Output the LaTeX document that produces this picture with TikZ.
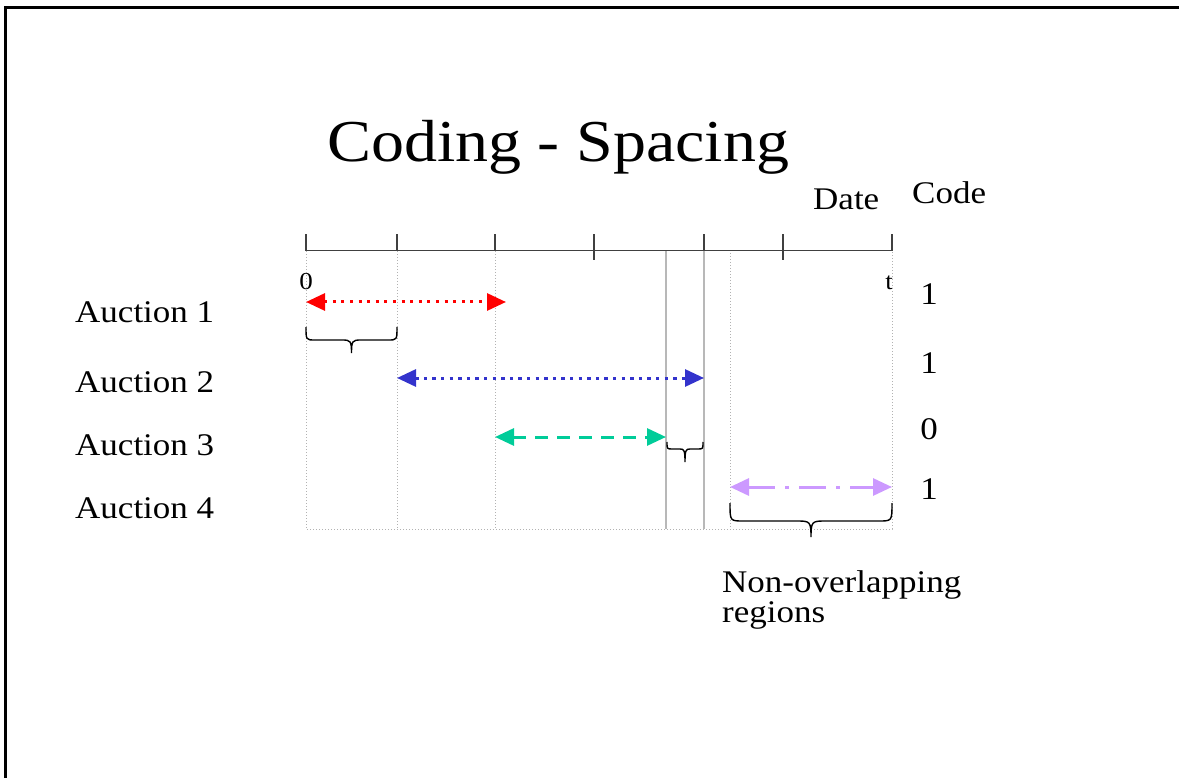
\documentclass[tikz,border=0pt]{standalone}
\usepackage{fontspec}
\setmainfont{Liberation Serif}
\usetikzlibrary{arrows.meta}

% slightly condensed vertical text
\newcommand{\sq}[1]{\scalebox{1}[0.9]{#1}}

% flat curly brace opening upwards:
% left x, right x, end y, flat y, tip y, curl width
\newcommand{\flatbrace}[6]{%
  \draw[curly] (#1,#3) .. controls (#1,#4) and (#1,#4) .. (#1+#6,#4)
    -- ({(#1+#2)/2-#6},#4) .. controls ({(#1+#2)/2-1},#4) and ({(#1+#2)/2},#4+1) .. ({(#1+#2)/2},#5)
    .. controls ({(#1+#2)/2},#4+1) and ({(#1+#2)/2+1},#4) .. ({(#1+#2)/2+#6},#4)
    -- (#2-#6,#4) .. controls (#2,#4) and (#2,#4) .. (#2,#3);}

\definecolor{redarr}{RGB}{255,0,0}
\definecolor{bluearr}{RGB}{51,51,204}
\definecolor{greenarr}{RGB}{0,204,153}
\definecolor{purplearr}{RGB}{204,153,255}

\tikzset{
  txt/.style={inner sep=0pt, anchor=base west, font=\fontsize{35}{40}\selectfont},
  small/.style={inner sep=0pt, anchor=base, font=\fontsize{27}{30}\selectfont},
  axisline/.style={black!75, line width=1pt},
  tick/.style={black!75, line width=1.2pt},
  guide/.style={black!30, line width=1pt, dotted},
  guidesolid/.style={black!28, line width=1.2pt},
  span/.style={line width=3pt, {Triangle[length=19pt,width=17pt]}-{Triangle[length=19pt,width=17pt]}},
  curly/.style={black, line width=1.4pt},
}

\begin{document}
\begin{tikzpicture}[x=1pt, y=-1pt]
\useasboundingbox (0,0) rectangle (1179,778);

% frame
\draw[line width=2.5pt] (5.5,778) -- (5.5,7.5) -- (1179,7.5);

% title
\node[inner sep=0pt, anchor=base, font=\fontsize{66}{72}\selectfont] (title) at (558,162) {\sq{Coding - Spacing}};

% column headers
\node[txt] (date) at (813,210) {\sq{Date}};
\node[txt] (code) at (912,204) {\sq{Code}};

% time axis
\coordinate (a0) at (306,251);
\coordinate (a1) at (397,251);
\coordinate (a2) at (495,251);
\coordinate (a3) at (594,251);
\coordinate (a4) at (704,251);
\coordinate (a5) at (783,251);
\coordinate (a6) at (892,251);
\draw[axisline] (a0) -- (a6);
\foreach \p in {a0,a1,a2,a4,a6} \draw[tick] (\p) -- ++(0,-17);
\foreach \p in {a3,a5} \draw[tick] ([yshift=-9pt]\p) -- ++(0,-26);

\node[small] (zero) at (306,290) {\sq{0}};
\node[small, anchor=base east] (tend) at (893,290) {\sq{t}};

% guide lines
\coordinate (b0) at (306,529);
\coordinate (b1) at (397,529);
\coordinate (b2) at (495,529);
\coordinate (b3) at (666,529);
\coordinate (b4) at (704,529);
\coordinate (b5) at (730,529);
\coordinate (b6) at (892,529);
\coordinate (c3) at (666,251);
\coordinate (c5) at (730,253);
\draw[guide] (a0) -- (b0) -- (b6) -- (a6);
\draw[guide] (a1) -- (b1);
\draw[guide] (a2) -- (b2);
\draw[guidesolid] (c3) -- (b3);
\draw[guidesolid] (a4) -- (b4);
\draw[guide] (c5) -- (b5);

% auction labels
\node[txt] (auc1) at (75,323) {\sq{Auction 1}};
\node[txt] (auc2) at (75,392) {\sq{Auction 2}};
\node[txt] (auc3) at (75,455) {\sq{Auction 3}};
\node[txt] (auc4) at (75,518) {\sq{Auction 4}};

% codes
\node[txt, anchor=base] (code1) at (929,305) {\sq{1}};
\node[txt, anchor=base] (code2) at (929,373) {\sq{1}};
\node[txt, anchor=base] (code3) at (929,439) {\sq{0}};
\node[txt, anchor=base] (code4) at (929,499) {\sq{1}};

% auction spans
\coordinate (r1) at (306,302);
\coordinate (r2) at (506,302);
\coordinate (u1) at (397,378);
\coordinate (u2) at (704,378);
\coordinate (g1) at (495,437);
\coordinate (g2) at (666,437);
\coordinate (p1) at (730,487);
\coordinate (p2) at (892,487);
\draw[span, redarr, dash pattern=on 3pt off 5.6pt] (r1) -- (r2);
\draw[span, bluearr, dash pattern=on 3.4pt off 5.2pt] (u1) -- (u2);
\draw[span, greenarr, dash pattern=on 13pt off 9pt] (g1) -- (g2);
\draw[span, purplearr, dash pattern=on 27pt off 10pt on 4pt off 10pt] (p1) -- (p2);

% braces
\flatbrace{306}{397}{327}{340}{353}{9}
\flatbrace{667}{703}{442}{449}{462}{5}
\flatbrace{730}{892}{503}{521}{537}{13}

% note
\node[txt] (note1) at (722,592) {\sq{Non-overlapping}};
\node[txt] (note2) at (722,622) {\sq{regions}};
\end{tikzpicture}
\end{document}
